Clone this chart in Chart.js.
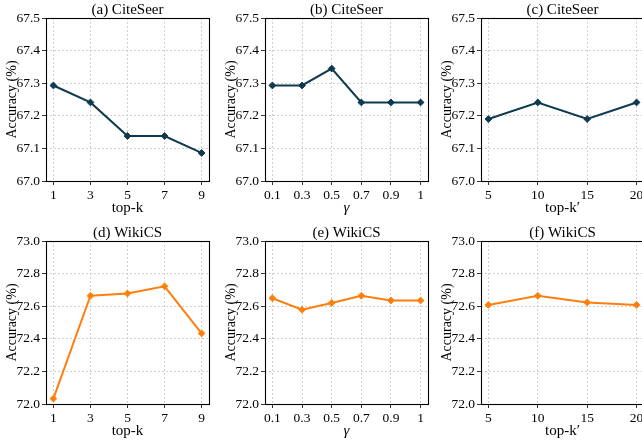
<!DOCTYPE html>
<html>
<head>
<meta charset="utf-8">
<script src="https://cdn.jsdelivr.net/npm/chart.js@4.4.1/dist/chart.umd.min.js"></script>
<style>
  html, body { margin: 0; padding: 0; background: #fff; width: 642px; height: 442px; overflow: hidden; }
  canvas { position: absolute; }
</style>
</head>
<body>
<canvas id="c0" width="218" height="223" style="left:0px;top:0px"></canvas>
<canvas id="c1" width="218" height="223" style="left:219px;top:0px"></canvas>
<canvas id="c2" width="218" height="223" style="left:435px;top:0px"></canvas>
<canvas id="c3" width="218" height="223" style="left:0px;top:223px"></canvas>
<canvas id="c4" width="218" height="223" style="left:219px;top:223px"></canvas>
<canvas id="c5" width="218" height="223" style="left:435px;top:223px"></canvas>
<script>
// ---- data ----
const kValues = [1, 3, 5, 7, 9];
const kLabels = ['1', '3', '5', '7', '9'];
const gammaLabels = ['0.1', '0.3', '0.5', '0.7', '0.9', '1'];
const kPrimeValues = [5, 10, 15, 20];
const kPrimeLabels = ['5', '10', '15', '20'];

const citeseerTopK = [67.293, 67.241, 67.138, 67.138, 67.086];
const citeseerGamma = [67.293, 67.293, 67.345, 67.241, 67.241, 67.241];
const citeseerTopKPrime = [67.190, 67.241, 67.190, 67.241];

const wikicsTopK = [72.033, 72.664, 72.678, 72.722, 72.433];
const wikicsGamma = [72.649, 72.578, 72.620, 72.664, 72.635, 72.635];
const wikicsTopKPrime = [72.608, 72.664, 72.623, 72.608];

const citeseerYTicks = [67.0, 67.1, 67.2, 67.3, 67.4, 67.5];
const wikicsYTicks = [72.0, 72.2, 72.4, 72.6, 72.8, 73.0];

const titles = ['(a) CiteSeer', '(b) CiteSeer', '(c) CiteSeer', '(d) WikiCS', '(e) WikiCS', '(f) WikiCS'];
const xAxisLabels = ['top-k', '\u03B3', 'top-k\u2032', 'top-k', '\u03B3', 'top-k\u2032'];
const yAxisLabel = 'Accuracy (%)';

const navy = '#0e3a4f';
const orange = '#ff7f0e';

// ---- helpers ----
const SERIF = "'Liberation Serif', 'Times New Roman', serif";
const gammaPositions = gammaLabels.map((_, i) => i);

const panels = [
  { xs: kValues, xl: kLabels, ys: citeseerTopK, yt: citeseerYTicks, color: navy },
  { xs: gammaPositions, xl: gammaLabels, ys: citeseerGamma, yt: citeseerYTicks, color: navy },
  { xs: kPrimeValues, xl: kPrimeLabels, ys: citeseerTopKPrime, yt: citeseerYTicks, color: navy },
  { xs: kValues, xl: kLabels, ys: wikicsTopK, yt: wikicsYTicks, color: orange },
  { xs: gammaPositions, xl: gammaLabels, ys: wikicsGamma, yt: wikicsYTicks, color: orange },
  { xs: kPrimeValues, xl: kPrimeLabels, ys: wikicsTopKPrime, yt: wikicsYTicks, color: orange }
];

const framePlugin = {
  id: 'frame',
  afterDatasetsDraw(chart) {
    const a = chart.chartArea;
    const ctx = chart.ctx;
    ctx.save();
    ctx.strokeStyle = '#000';
    ctx.lineWidth = 1.1;
    ctx.setLineDash([]);
    ctx.strokeRect(Math.round(a.left) + 0.5, Math.round(a.top) + 0.5,
                   Math.round(a.right - a.left), Math.round(a.bottom - a.top));
    ctx.restore();
  }
};

panels.forEach((p, idx) => {
  const span = p.xs[p.xs.length - 1] - p.xs[0];
  const xmin = p.xs[0] - 0.05 * span;
  const xmax = p.xs[p.xs.length - 1] + 0.05 * span;
  const isGamma = xAxisLabels[idx] === '\u03B3';
  new Chart(document.getElementById('c' + idx), {
    type: 'line',
    data: {
      datasets: [{
        data: p.xs.map((x, i) => ({ x: x, y: p.ys[i] })),
        borderColor: p.color,
        backgroundColor: p.color,
        borderWidth: 2,
        pointStyle: 'rectRot',
        pointRadius: 3.4,
        pointHoverRadius: 3.4,
        pointBorderWidth: 1,
        tension: 0,
        clip: false
      }]
    },
    plugins: [framePlugin],
    options: {
      responsive: false,
      animation: false,
      events: [],
      layout: { padding: { left: 0, right: 9, top: 0, bottom: 0 } },
      plugins: {
        legend: { display: false },
        tooltip: { enabled: false },
        title: { display: false }
      },
      scales: {
        xTop: {
          type: 'linear',
          position: 'top',
          min: xmin,
          max: xmax,
          afterFit: s => { s.height = 18; },
          ticks: { display: false },
          grid: { display: false, drawTicks: false },
          border: { display: false },
          title: {
            display: true,
            text: titles[idx],
            color: '#000',
            font: { family: SERIF, size: 15, weight: 'normal' },
            padding: { top: 1.5, bottom: 0 }
          }
        },
        x: {
          type: 'linear',
          position: 'bottom',
          min: xmin,
          max: xmax,
          afterBuildTicks: s => { s.ticks = p.xs.map(v => ({ value: v })); },
          afterFit: s => { s.height = 42; },
          ticks: {
            autoSkip: false,
            maxRotation: 0,
            color: '#000',
            padding: 2,
            font: { family: SERIF, size: 13.5 },
            callback: (v, i) => p.xl[i]
          },
          grid: { color: '#c4c4c4', lineWidth: 0.8, tickColor: '#000', tickLength: 4, drawTicks: true },
          border: { display: false, dash: [2, 2] },
          title: {
            display: true,
            text: xAxisLabels[idx],
            color: '#000',
            font: { family: SERIF, size: 15, style: isGamma ? 'italic' : 'normal' },
            padding: { top: 0, bottom: 6 }
          }
        },
        y: {
          type: 'linear',
          min: p.yt[0],
          max: p.yt[p.yt.length - 1],
          afterBuildTicks: s => { s.ticks = p.yt.map(v => ({ value: v })); },
          afterFit: s => { s.width = 46; },
          ticks: {
            color: '#000',
            padding: 2,
            font: { family: SERIF, size: 13.5 },
            callback: (v, i) => p.yt[i].toFixed(1)
          },
          grid: { color: '#c4c4c4', lineWidth: 0.8, tickColor: '#000', tickLength: 4, drawTicks: true },
          border: { display: false, dash: [2, 2] },
          title: {
            display: true,
            text: yAxisLabel,
            color: '#000',
            font: { family: SERIF, size: 14 },
            padding: { top: 3.6, bottom: 0 }
          }
        }
      }
    }
  });
});
</script>
</body>
</html>
